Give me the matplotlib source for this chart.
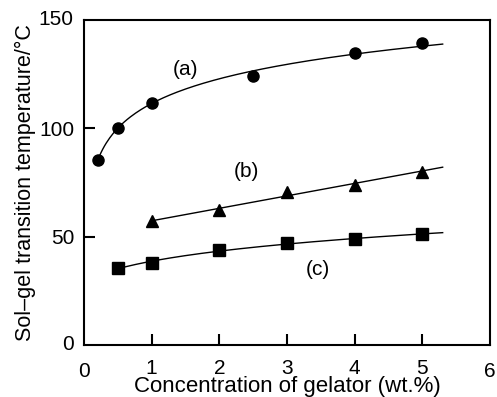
import numpy as np
import matplotlib.pyplot as plt

plt.rcParams['font.family'] = ['Liberation Sans', 'DejaVu Sans']

# ----------[data]----------
xa = [0.2, 0.5, 1, 2.5, 4, 5]
ya = [85.5, 100, 111.5, 124, 134.5, 139.5]

xb = [1, 2, 3, 4, 5]
yb = [57, 62.5, 70.5, 74, 80]

xc = [0.5, 1, 2, 3, 4, 5]
yc = [35.5, 37.8, 43.8, 47, 49, 51]

fig = plt.figure(figsize=(4.97, 3.97), dpi=100)
ax = fig.add_axes([0.169, 0.131, 0.817, 0.819])

# smooth fitted curves through each series
def fit_curve(x, y, deg, use_log, x_end=5.3):
    x = np.asarray(x, float)
    f = np.log if use_log else (lambda v: v)
    p = np.polyfit(f(x), y, deg)
    xs = np.linspace(x.min(), x_end, 200)
    return xs, np.polyval(p, f(xs))

for x, y, m, deg, lg in [(xa, ya, 'o', 1, True), (xb, yb, '^', 1, False), (xc, yc, 's', 2, True)]:
    xs, ys = fit_curve(x, y, deg, lg)
    ax.plot(xs, ys, color='black', lw=1.0)
    ax.plot(x, y, m, color='black', ms=8, ls='none')

ax.text(1.5, 127, '(a)', fontsize=15, ha='center', va='center')
ax.text(2.4, 80, '(b)', fontsize=15, ha='center', va='center')
ax.text(3.45, 35, '(c)', fontsize=15, ha='center', va='center')

ax.set_xlim(0, 6)
ax.set_ylim(0, 150)
ax.set_xticks([1, 2, 3, 4, 5])
ax.set_yticks([50, 100])
ax.tick_params(direction='in', length=8, width=1.5, labelsize=15)
ax.tick_params(axis='x', pad=10)
ax.tick_params(axis='y', pad=7)
for s in ax.spines.values():
    s.set_linewidth(1.5)

# end labels 0, 6, 0, 150 without tick marks
xt = ax.get_xaxis_transform()
yt = ax.get_yaxis_transform()
ax.text(0, -0.052, '0', transform=xt, ha='center', va='top', fontsize=15)
ax.text(6, -0.052, '6', transform=xt, ha='center', va='top', fontsize=15)
ax.text(-0.025, 0, '0', transform=yt, ha='right', va='center', fontsize=15)
ax.text(-0.025, 150, '150', transform=yt, ha='right', va='center', fontsize=15)

ax.set_xlabel('Concentration of gelator (wt.%)', fontsize=16, labelpad=-1)
ax.set_ylabel('Sol\u2013gel transition temperature/\u00b0C', fontsize=15.5, labelpad=2)

fig.savefig('out.png', dpi=100)
